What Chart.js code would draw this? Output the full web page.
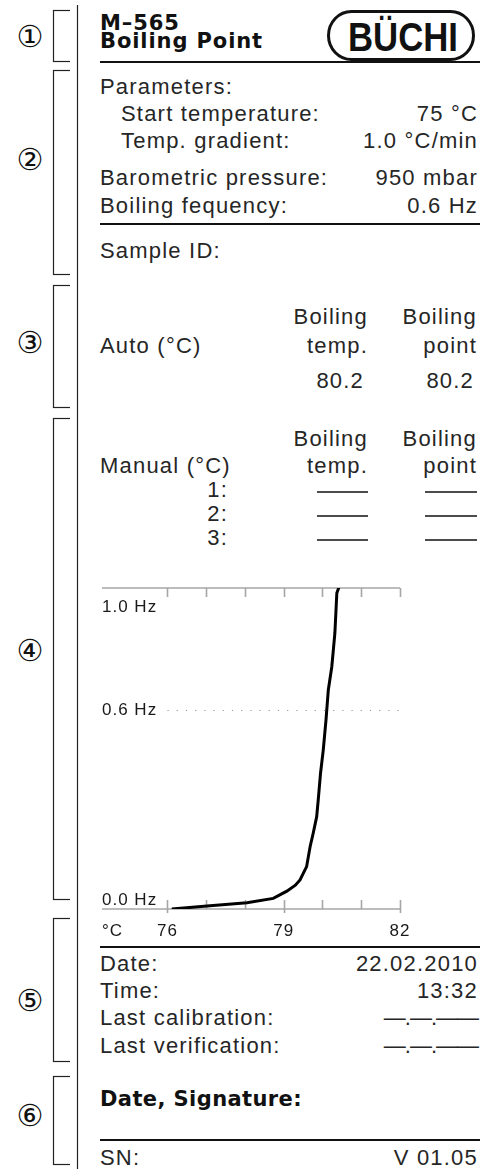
<!DOCTYPE html>
<html>
<head>
<meta charset="utf-8">
<script src="https://cdn.jsdelivr.net/npm/chart.js@4.4.1/dist/chart.umd.min.js"></script>
<style>
  html, body { margin: 0; padding: 0; background: #fff; }
  #page { position: relative; width: 480px; height: 1169px; overflow: hidden; }
  #doc { position: absolute; left: 0; top: 0; }
  #chartWrap { position: absolute; left: 0; top: 0; width: 480px; height: 1169px; pointer-events: none; }
  .reg { font-family: 'Liberation Sans', Arial, sans-serif; font-size: 22px; letter-spacing: 1.2px; fill: #262626; }
  .bold { font-family: 'DejaVu Sans', sans-serif; font-weight: bold; font-size: 21px; letter-spacing: 0.9px; fill: #111; }
  .circ { font-family: 'DejaVu Sans', sans-serif; font-size: 30px; fill: #111; }
</style>
</head>
<body>
<div id="page">
<svg id="doc" width="480" height="1169" xmlns="http://www.w3.org/2000/svg"></svg>
<div id="chartWrap"><canvas id="c" width="480" height="1169"></canvas></div>
</div>
<script>
// ---------------- data ----------------
const tempC  = [76.11, 77.02, 78.05, 78.73, 79.08, 79.30, 79.42, 79.59, 79.68, 79.76, 79.85, 79.89, 79.95, 80.02, 80.09, 80.15, 80.24, 80.28, 80.32, 80.37, 80.43];
const freqHz = [0.000, 0.009, 0.019, 0.032, 0.054, 0.072, 0.088, 0.128, 0.188, 0.229, 0.279, 0.330, 0.411, 0.481, 0.571, 0.662, 0.732, 0.783, 0.834, 0.955, 0.974];
const xTickValues  = [76, 77, 78, 79, 80, 81, 82];
const xLabelValues = [76, 79, 82];
const xMajorTicks  = [76, 79, 82];
const yLabelValues = [0.0, 0.6, 1.0];
const boilingFreq  = 0.6;
const xUnit = '°C';
const yUnit = 'Hz';

const headerLines = ['M–565', 'Boiling Point'];
const paramLabels = ['Start temperature:', 'Temp. gradient:'];
const paramValues = ['75 °C', '1.0 °C/min'];
const instrLabels = ['Barometric pressure:', 'Boiling fequency:'];
const instrValues = ['950 mbar', '0.6 Hz'];
const colHeadTop  = ['Boiling', 'Boiling'];
const colHeadBot  = ['temp.', 'point'];
const autoValues  = ['80.2', '80.2'];
const manualRows  = ['1:', '2:', '3:'];
const footLabels  = ['Date:', 'Time:', 'Last calibration:', 'Last verification:'];
const footValues  = ['22.02.2010', '13:32', '—.—.——', '—.—.——'];
const circled     = ['①', '②', '③', '④', '⑤', '⑥'];

// ---------------- document (svg) ----------------
const NS = 'http://www.w3.org/2000/svg';
const svg = document.getElementById('doc');
function el(tag, attrs, text) {
  const e = document.createElementNS(NS, tag);
  for (const k in attrs) e.setAttribute(k, attrs[k]);
  if (text !== undefined) e.textContent = text;
  svg.appendChild(e);
  return e;
}
function txt(x, y, s, cls, anchor, extra) {
  const a = Object.assign({ x: x, y: y, class: cls, 'text-anchor': anchor || 'start' }, extra || {});
  return el('text', a, s);
}
function hline(x1, x2, y, w, c) { el('line', { x1: x1, x2: x2, y1: y, y2: y, stroke: c || '#111', 'stroke-width': w || 2 }); }
function vline(x, y1, y2, w, c) { el('line', { x1: x, x2: x, y1: y1, y2: y2, stroke: c || '#111', 'stroke-width': w || 1 }); }

// main vertical rule
vline(77.5, 5, 1169, 1.2, '#222');

// brackets + circled numbers
const brackets = [[10, 62], [70, 275], [285, 408], [418, 900], [918, 1062], [1076, 1165]];
const circY = [36, 159, 342, 650, 1000, 1115];
brackets.forEach((b, i) => {
  vline(53.5, b[0], b[1], 1.2, '#222');
  hline(53, 70, b[0] + 0.5, 1.2, '#222');
  hline(53, 70, b[1] - 0.5, 1.2, '#222');
  txt(30, circY[i], circled[i], 'circ', 'middle', { 'dominant-baseline': 'central' });
});

const L = 100, R = 478, IND = 121;
const C1 = 368, C2 = 477;

// header
txt(L, 30, headerLines[0], 'bold');
txt(L, 48, headerLines[1], 'bold');
hline(L, 480, 62, 2);
// logo
el('rect', { x: 328.5, y: 11.5, width: 145, height: 48, rx: 23, ry: 24, fill: 'none', stroke: '#111', 'stroke-width': 3 });
el('text', { x: 348, y: 51, 'font-family': 'Liberation Sans, Arial, sans-serif', 'font-weight': 'bold', 'font-size': 40, fill: '#111', textLength: 110, lengthAdjust: 'spacingAndGlyphs' }, 'BÜCHI');

// section 2
txt(L, 94, 'Parameters:', 'reg');
const pY = [121, 148];
paramLabels.forEach((s, i) => { txt(IND, pY[i], s, 'reg'); txt(R, pY[i], paramValues[i], 'reg', 'end'); });
const iY = [185, 213];
instrLabels.forEach((s, i) => { txt(L, iY[i], s, 'reg'); txt(R, iY[i], instrValues[i], 'reg', 'end'); });
hline(L, 480, 224, 2);
txt(L, 258, 'Sample ID:', 'reg');

// section 3
txt(C1, 324, colHeadTop[0], 'reg', 'end'); txt(C2, 324, colHeadTop[1], 'reg', 'end');
txt(L, 353, 'Auto (°C)', 'reg');
txt(C1, 353, colHeadBot[0], 'reg', 'end'); txt(C2, 353, colHeadBot[1], 'reg', 'end');
txt(C1 - 4, 388, autoValues[0], 'reg', 'end'); txt(C2 - 3, 388, autoValues[1], 'reg', 'end');

// section 4 table
txt(C1, 446, colHeadTop[0], 'reg', 'end'); txt(C2, 446, colHeadTop[1], 'reg', 'end');
txt(L, 473, 'Manual (°C)', 'reg');
txt(C1, 473, colHeadBot[0], 'reg', 'end'); txt(C2, 473, colHeadBot[1], 'reg', 'end');
const mY = [497, 521, 545];
manualRows.forEach((s, i) => {
  txt(228, mY[i], s, 'reg', 'end');
  hline(317, 368, mY[i] - 5, 1.6);
  hline(425, 477, mY[i] - 5, 1.6);
});

// line under chart
hline(L, 480, 947, 2);

// section 5
const fY = [971, 998, 1025, 1053];
footLabels.forEach((s, i) => {
  txt(L, fY[i], s, 'reg');
  const v = txt(R, fY[i], footValues[i], 'reg', 'end');
  if (i >= 2) v.setAttribute('style', 'letter-spacing:-1px');
});
// section 6
txt(L, 1106, 'Date, Signature:', 'bold', 'start', { style: 'letter-spacing:0.4px' });
hline(L, 480, 1140, 2);
txt(L, 1165, 'SN:', 'reg');
txt(R, 1165, 'V 01.05', 'reg', 'end');

// ---------------- chart ----------------
const axisPlugin = {
  id: 'printAxes',
  beforeDatasetsDraw(chart) {
    const ctx = chart.ctx, a = chart.chartArea, xs = chart.scales.x, ys = chart.scales.y;
    ctx.save();
    ctx.strokeStyle = '#a6a6a6';
    ctx.lineWidth = 1.6;
    ctx.beginPath();
    ctx.moveTo(a.left, a.top); ctx.lineTo(a.right, a.top);
    ctx.moveTo(a.left, a.bottom); ctx.lineTo(a.right, a.bottom);
    xTickValues.forEach(v => {
      const px = Math.round(xs.getPixelForValue(v)) + 0.5;
      ctx.moveTo(px, a.top); ctx.lineTo(px, a.top + 9);
      const ext = xMajorTicks.includes(v) ? 4 : 0;
      ctx.moveTo(px, a.bottom + ext); ctx.lineTo(px, a.bottom - 9);
    });
    ctx.stroke();
    // boiling frequency dotted line
    const yb = Math.round(ys.getPixelForValue(boilingFreq)) + 0.5;
    ctx.strokeStyle = '#9a9a9a';
    ctx.lineWidth = 1.2;
    ctx.setLineDash([1.2, 8]);
    ctx.beginPath();
    ctx.moveTo(xs.getPixelForValue(xTickValues[0]), yb);
    ctx.lineTo(a.right, yb);
    ctx.stroke();
    ctx.restore();
  },
  afterDraw(chart) {
    const ctx = chart.ctx, a = chart.chartArea, xs = chart.scales.x, ys = chart.scales.y;
    ctx.save();
    ctx.fillStyle = '#1a1a1a';
    ctx.font = "17px 'Liberation Sans', Arial, sans-serif";
    try { ctx.letterSpacing = '1px'; } catch (e) {}
    ctx.textAlign = 'left';
    yLabelValues.forEach(v => {
      const label = v.toFixed(1) + ' ' + yUnit;
      const py = ys.getPixelForValue(Math.min(v, ys.max));
      if (v >= ys.max) { ctx.textBaseline = 'top'; ctx.fillText(label, a.left, py + 11); }
      else if (v <= ys.min) { ctx.textBaseline = 'alphabetic'; ctx.fillText(label, a.left, py - 4); }
      else { ctx.textBaseline = 'middle'; ctx.fillText(label, a.left, py); }
    });
    ctx.textBaseline = 'alphabetic';
    ctx.fillText(xUnit, a.left, a.bottom + 27);
    ctx.textAlign = 'center';
    xLabelValues.forEach(v => ctx.fillText(String(v), xs.getPixelForValue(v), a.bottom + 27));
    ctx.restore();
  }
};

new Chart(document.getElementById('c'), {
  type: 'line',
  data: {
    datasets: [{
      data: tempC.map((t, i) => ({ x: t, y: freqHz[i] })),
      borderColor: '#000',
      borderWidth: 3,
      pointRadius: 0,
      tension: 0,
      fill: false
    }]
  },
  options: {
    responsive: false,
    animation: false,
    devicePixelRatio: 1,
    layout: { padding: { left: 102, right: 80, top: 588, bottom: 260 } },
    plugins: { legend: { display: false }, tooltip: { enabled: false } },
    scales: {
      x: { type: 'linear', min: 74.31, max: 82, display: false },
      y: { type: 'linear', min: 0, max: 0.97, display: false }
    }
  },
  plugins: [axisPlugin]
});
</script>
</body>
</html>
